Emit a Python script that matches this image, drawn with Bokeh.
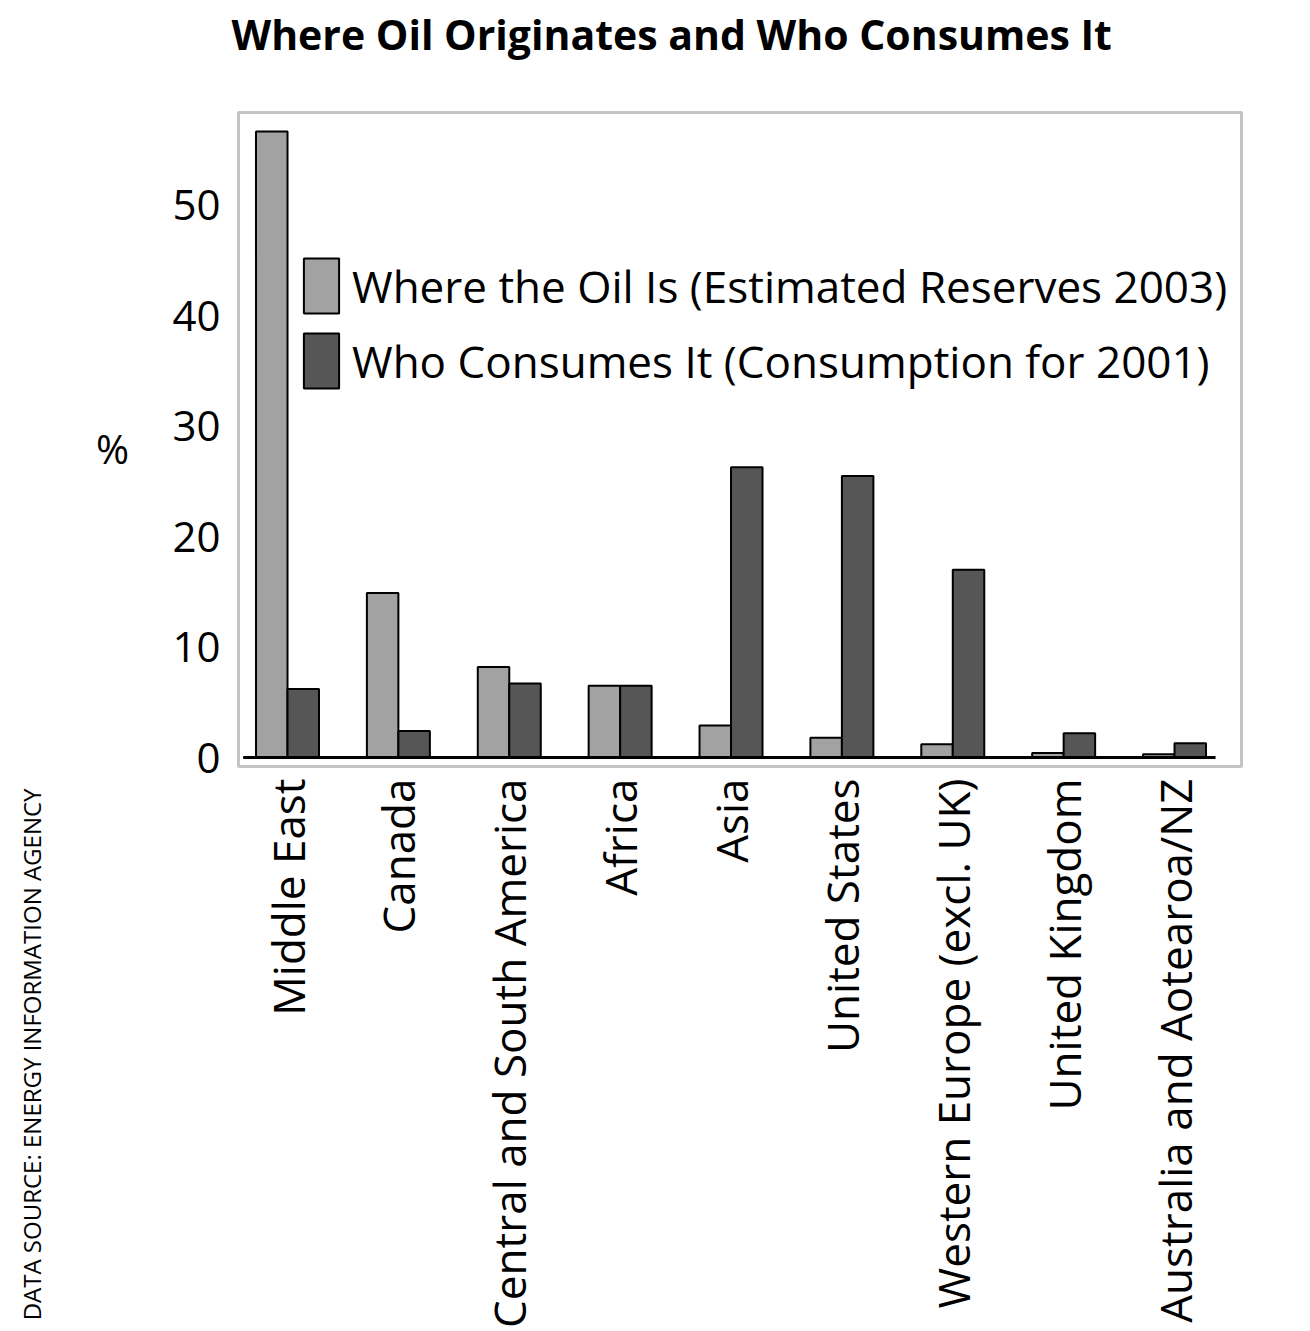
import numpy as np
from bokeh.plotting import figure
from bokeh.layouts import row
from bokeh.models import (ColumnDataSource, FixedTicker, Legend, LegendItem, Range1d, Title)
from bokeh.transform import dodge
from bokeh.embed import file_html
from bokeh.resources import INLINE

regions = ["Middle East", "Canada", "Central and South America", "Africa", "Asia",
           "United States", "Western Europe (excl. UK)", "United Kingdom",
           "Australia and Aotearoa/NZ"]
reserves = [56.7, 14.9, 8.2, 6.5, 2.9, 1.8, 1.2, 0.4, 0.3]
consumption = [6.2, 2.4, 6.7, 6.5, 26.3, 25.5, 17.0, 2.2, 1.3]
y_ticks = [0, 10, 20, 30, 40, 50]
series_names = ["Where the Oil Is (Estimated Reserves 2003)",
                "Who Consumes It (Consumption for 2001)"]
title_text = "Where Oil Originates and Who Consumes It"
source_text = "DATA SOURCE: ENERGY INFORMATION AGENCY"
unit_text = "%"

FONT = "Open Sans"
LIGHT = "#a2a2a2"
DARK = "#565656"

H = 1331
LW = 150          # width of left strip (source + unit)
MW = 1150         # width of main chart
FR_TOP, FR_BOTTOM, FR_LEFT, FR_RIGHT = 112, 766, 238, 1241

# ---------- left strip: unit label and rotated source note ----------
left = figure(width=LW, height=H, output_backend="svg", toolbar_location=None,
              x_range=Range1d(0, LW), y_range=Range1d(FR_BOTTOM, FR_TOP),
              min_border_left=0, min_border_right=0,
              min_border_top=FR_TOP, min_border_bottom=H - FR_BOTTOM)
left.yaxis.visible = False
left.grid.visible = False
left.outline_line_color = None
left.text(x=[112], y=[448], text=[unit_text], text_font_size="40px",
          text_align="center", text_baseline="middle", text_color="black",
          text_font={"value": FONT})
lx = left.xaxis[0]
lx.ticker = FixedTicker(ticks=[31])
lx.major_label_overrides = {31: source_text}
lx.major_label_orientation = np.pi / 2
lx.major_label_text_font = FONT
lx.major_label_text_font_size = "24px"
lx.major_label_text_color = "black"
lx.major_label_standoff = 22
lx.axis_line_color = None
lx.major_tick_line_color = None
lx.minor_tick_line_color = None
lx.major_tick_out = 0
lx.major_tick_in = 0

# ---------- main chart ----------
idx = list(range(len(regions)))
src = ColumnDataSource(dict(x=idx, reserves=reserves, consumption=consumption))

p = figure(width=MW, height=H, output_backend="svg", toolbar_location=None,
           x_range=Range1d(-0.442, 8.604), y_range=Range1d(-0.815, 58.42),
           min_border_left=FR_LEFT - LW, min_border_right=MW - (FR_RIGHT - LW),
           min_border_top=FR_TOP, min_border_bottom=H - FR_BOTTOM)

# spacer keeps the title near the top of the page, main title above it
p.add_layout(Title(text=" ", text_font_size="2px", standoff=47), "above")
p.add_layout(Title(text=title_text, align="left", offset=-7, standoff=0,
                   text_font=FONT, text_font_size="41px", text_font_style="bold",
                   text_color="black"), "above")

bw = 0.284
r1 = p.vbar(x=dodge("x", -bw / 2), top="reserves", width=bw, source=src,
            fill_color=LIGHT, line_color="black", line_width=2)
r2 = p.vbar(x=dodge("x", bw / 2), top="consumption", width=bw, source=src,
            fill_color=DARK, line_color="black", line_width=2)

# baseline
p.segment(x0=[idx[0] - 0.40], y0=[0], x1=[idx[-1] + 0.37], y1=[0],
          line_color="black", line_width=3)

p.xgrid.visible = False
p.ygrid.visible = False
p.outline_line_color = "#c4c4c4"
p.outline_line_width = 3
p.background_fill_color = "white"
p.border_fill_color = "white"

xa = p.xaxis[0]
xa.ticker = FixedTicker(ticks=idx)
xa.major_label_overrides = {i: r for i, r in zip(idx, regions)}
xa.major_label_orientation = np.pi / 2
xa.major_label_text_font = FONT
xa.major_label_text_font_size = "44px"
xa.major_label_text_color = "black"
xa.major_label_standoff = 12
xa.axis_line_color = None
xa.major_tick_line_color = None
xa.minor_tick_line_color = None
xa.major_tick_out = 0
xa.major_tick_in = 0

ya = p.yaxis[0]
ya.ticker = FixedTicker(ticks=y_ticks)
ya.major_label_text_font = FONT
ya.major_label_text_font_size = "42px"
ya.major_label_text_color = "black"
ya.major_label_standoff = 18
ya.axis_line_color = None
ya.major_tick_line_color = None
ya.minor_tick_line_color = None
ya.major_tick_out = 0
ya.major_tick_in = 0

legend = Legend(items=[LegendItem(label=series_names[0], renderers=[r1]),
                       LegendItem(label=series_names[1], renderers=[r2])],
                location=(61, 371), padding=0, margin=0, spacing=6,
                glyph_width=44, glyph_height=69, label_height=69,
                label_standoff=9, label_text_font=FONT,
                label_text_font_size="44px", label_text_color="black",
                border_line_color=None, background_fill_alpha=0)
p.add_layout(legend)

layout = row(left, p, spacing=0)
open("out.html", "w").write(file_html(layout, INLINE))
